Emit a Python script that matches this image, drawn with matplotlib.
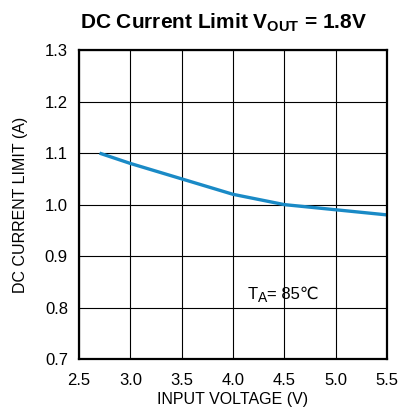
import matplotlib
matplotlib.use("Agg")
import matplotlib.pyplot as plt
from matplotlib import transforms

# input voltage (V) vs DC current limit (A)
vin = [2.7, 3.0, 3.5, 4.0, 4.5, 5.0, 5.5]
ilim = [1.10, 1.08, 1.05, 1.02, 1.00, 0.99, 0.98]

xticks = [2.5, 3.0, 3.5, 4.0, 4.5, 5.0, 5.5]
yticks = [0.7, 0.8, 0.9, 1.0, 1.1, 1.2, 1.3]

plt.rcParams['font.family'] = ['Liberation Sans', 'DejaVu Sans']
plt.rcParams['mathtext.fontset'] = 'custom'
plt.rcParams['mathtext.rm'] = 'Liberation Sans'
plt.rcParams['mathtext.bf'] = 'Liberation Sans:bold'

fig = plt.figure(figsize=(4.0, 4.08), dpi=100)
ax = fig.add_axes([0.1975, 0.12, 0.77, 0.757])

ax.plot(vin, ilim, color='#1a8ac6', lw=2.4, solid_capstyle='butt')

ax.set_xlim(2.5, 5.5)
ax.set_ylim(0.7, 1.3)
ax.set_xticks(xticks)
ax.set_yticks(yticks)
ax.set_xticklabels(['%.1f' % v for v in xticks])
ax.set_yticklabels(['%.1f' % v for v in yticks])
ax.tick_params(length=0, labelsize=12)
ax.tick_params(axis='x', pad=10)
ax.tick_params(axis='y', pad=8)
ax.grid(True, color='black', lw=0.8)
ax.set_axisbelow(True)
for s in ax.spines.values():
    s.set_linewidth(1.6)

ax.set_xlabel('INPUT VOLTAGE (V)', fontsize=11.5, labelpad=3)
ax.set_ylabel('DC CURRENT LIMIT (A)', fontsize=11.5, labelpad=12)
ax.set_title(r'DC Current Limit V$_{\mathbf{OUT}}$ = 1.8V', fontsize=15,
             fontweight='bold', pad=16, x=0.468)

# T_A = 85 degC note, built from pieces so the degree sign renders
t = ax.text(4.14, 0.826, 'T', fontsize=12, va='center')
fig.canvas.draw()
ex = t.get_window_extent()
tr = transforms.offset_copy(t.get_transform(), fig=fig, x=ex.width * 72 / 100, y=-3, units='points')
a = ax.text(4.14, 0.826, 'A', fontsize=10, va='center', transform=tr)
fig.canvas.draw()
ex2 = a.get_window_extent()
tr2 = transforms.offset_copy(t.get_transform(), fig=fig,
                             x=(ex.width + ex2.width) * 72 / 100, y=0, units='points')
ax.text(4.14, 0.826, '= 85℃', fontsize=12, va='center', transform=tr2)

fig.savefig('out.png', dpi=100)
